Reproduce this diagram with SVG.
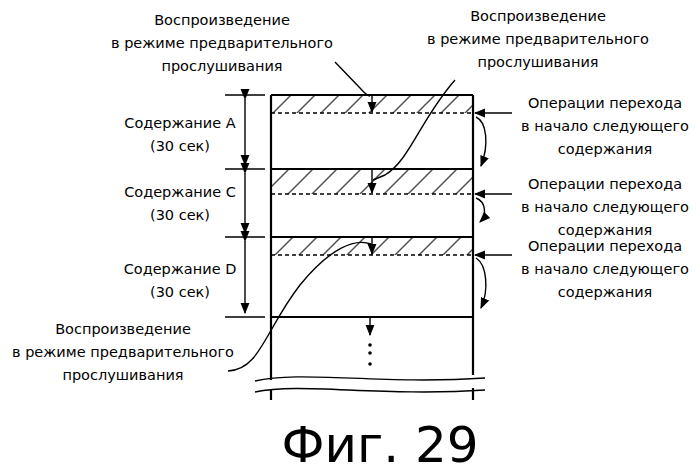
<svg xmlns="http://www.w3.org/2000/svg" width="699" height="473" viewBox="0 0 699 473">
<defs>
<pattern id="h" width="24" height="24" patternUnits="userSpaceOnUse" patternTransform="skewX(-45)"><line x1="2" y1="0" x2="2" y2="24" stroke="#000" stroke-width="1.4"/></pattern>
<marker id="a" viewBox="0 0 10 10" refX="9" refY="5" markerWidth="8" markerHeight="8" orient="auto"><path d="M0,1 L10,5 L0,9 z" fill="#000"/></marker>
</defs>
<style>
text{font-family:"DejaVu Sans",sans-serif;font-size:14.5px;text-anchor:middle;fill:#000}
.l{fill:none;stroke:#000;stroke-width:1.4}
.t{stroke:#000;stroke-width:2.2;fill:none}
.d{stroke:#000;stroke-width:1.4;stroke-dasharray:4,3}
</style>
<rect width="699" height="473" fill="#fff"/>
<g id="blocks">
<rect x="271" y="95" width="202" height="18" fill="url(#h)"/>
<rect x="271" y="169" width="202" height="25" fill="url(#h)"/>
<rect x="271" y="237" width="202" height="18" fill="url(#h)"/>
<path class="t" d="M271,95 H473 M271,169 H473 M271,237 H473 M271,317 H473 M271,95 V380 M473,95 V375 M271,390 V400 M473,388 V400"/>
<line class="d" x1="271" y1="113" x2="473" y2="113"/>
<line class="d" x1="271" y1="194" x2="473" y2="194"/>
<line class="d" x1="271" y1="255" x2="473" y2="255"/>
<path class="l" d="M255,381 C300,370 380,385 485,378 M255,392 C300,382 380,397 485,390"/>
<circle cx="370" cy="345" r="1.8"/><circle cx="370" cy="353" r="1.8"/><circle cx="370" cy="364" r="1.8"/>
</g>
<g id="connectors">
<path class="l" d="M225,95 H265 M225,169 H265 M225,237 H265 M225,317 H265"/>
<line class="l" x1="245" y1="99" x2="245" y2="165" marker-start="url(#a)" marker-end="url(#a)"/>
<line class="l" x1="245" y1="173" x2="245" y2="233" marker-start="url(#a)" marker-end="url(#a)"/>
<line class="l" x1="245" y1="241" x2="245" y2="313" marker-start="url(#a)" marker-end="url(#a)"/>
<line class="l" x1="372" y1="95" x2="372" y2="112" marker-end="url(#a)"/>
<line class="l" x1="372" y1="169" x2="372" y2="193" marker-end="url(#a)"/>
<line class="l" x1="372" y1="237" x2="372" y2="254" marker-end="url(#a)"/>
<line class="l" x1="370" y1="318" x2="370" y2="335" marker-end="url(#a)"/>
<path class="l" d="M335,62 L360,88 Q367,96 370,96"/>
<path class="l" d="M455,80 C420,120 410,160 385,175 L373,180"/>
<path class="l" d="M228,371 C260,370 265,330 300,285 C330,248 355,238 371,244"/>
<line class="l" x1="512" y1="113" x2="475" y2="113" marker-end="url(#a)"/>
<line class="l" x1="512" y1="194" x2="475" y2="194" marker-end="url(#a)"/>
<line class="l" x1="512" y1="255" x2="475" y2="255" marker-end="url(#a)"/>
<path class="l" d="M476,117 C487,122 489,145 481,166" marker-end="url(#a)"/>
<path class="l" d="M476,198 C486,202 487,215 480,222" marker-end="url(#a)"/>
<path class="l" d="M476,258 C487,265 489,290 481,308" marker-end="url(#a)"/>
</g>
<g id="labels">
<text x="222" y="25">Воспроизведение</text>
<text x="222" y="48">в режиме предварительного</text>
<text x="222" y="71">прослушивания</text>
<text x="538" y="21">Воспроизведение</text>
<text x="538" y="44">в режиме предварительного</text>
<text x="538" y="67">прослушивания</text>
<text x="180" y="128">Содержание А</text>
<text x="180" y="151">(30 сек)</text>
<text x="180" y="197">Содержание С</text>
<text x="180" y="220">(30 сек)</text>
<text x="180" y="274">Содержание D</text>
<text x="180" y="297">(30 сек)</text>
<text x="123" y="334">Воспроизведение</text>
<text x="123" y="357">в режиме предварительного</text>
<text x="123" y="380">прослушивания</text>
<text x="605" y="108">Операции перехода</text>
<text x="605" y="131">в начало следующего</text>
<text x="605" y="154">содержания</text>
<text x="605" y="189">Операции перехода</text>
<text x="605" y="212">в начало следующего</text>
<text x="605" y="235">содержания</text>
<text x="605" y="251">Операции перехода</text>
<text x="605" y="274">в начало следующего</text>
<text x="605" y="297">содержания</text>
<text x="380" y="462" style="font-size:50px">Фиг. 29</text>
</g>
</svg>
